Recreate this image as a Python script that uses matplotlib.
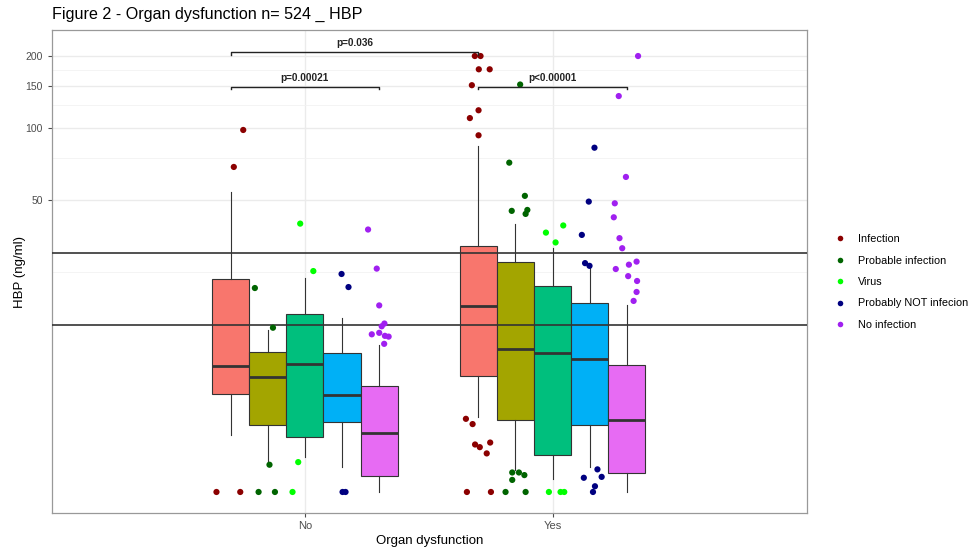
import matplotlib
matplotlib.use("Agg")
import matplotlib.pyplot as plt
from matplotlib.lines import Line2D
from matplotlib.ticker import FixedLocator, NullFormatter

plt.rcParams['font.family'] = ['Liberation Sans', 'DejaVu Sans']

# ---------------- data ----------------
categories = ["No", "Yes"]
groups = ["Infection", "Probable infection", "Virus", "Probably NOT infecion", "No infection"]

# box statistics (whisker low, q1, median, q3, whisker high) per group
whislo_no = [5.2, 3.9, 4.2, 3.8, 3.0]
q1_no = [7.7, 5.7, 5.1, 5.9, 3.5]
med_no = [10.1, 9.1, 10.3, 7.6, 5.3]
q3_no = [23.4, 11.6, 16.6, 11.4, 8.3]
whishi_no = [53.8, 14.3, 23.5, 16.0, 12.4]

whislo_yes = [6.2, 3.7, 3.4, 3.8, 3.0]
q1_yes = [9.2, 6.0, 4.3, 5.7, 3.6]
med_yes = [18.0, 11.9, 11.4, 10.8, 6.0]
q3_yes = [32.1, 27.5, 21.8, 18.5, 10.2]
whishi_yes = [84.1, 39.8, 31.4, 27.0, 18.1]

# outlying points (values) and their horizontal jitter
pts_no = [
    [98.1, 68.7, 3, 3],
    [21.4, 14.6, 3.9, 3, 3],
    [39.8, 25.2, 4.0, 3],
    [24.5, 21.6, 3, 3],
    [37.6, 25.8, 18.1, 14.8, 15.2, 13.7, 13.9, 13.5, 13.4, 12.5],
]
jit_no = [
    [0.051, 0.013, -0.057, 0.039],
    [-0.052, 0.021, 0.007, -0.037, 0.029],
    [-0.019, 0.034, -0.027, -0.050],
    [-0.002, 0.026, 0.002, 0.014],
    [-0.045, -0.010, 0.0, 0.010, 0.021, -0.030, 0.0, 0.023, 0.038, 0.020],
]
pts_yes = [
    [200, 200, 176, 176, 151, 118.6, 110, 93.2, 6.07, 5.77, 4.74, 4.62, 4.83, 4.35, 3, 3],
    [152, 71.6, 52, 45, 45.4, 43.7, 3.62, 3.62, 3.53, 3.37, 3, 3],
    [36.5, 39.1, 33.2, 3, 3, 3],
    [82.7, 49.2, 35.7, 27.2, 26.5, 3.73, 3.44, 3.47, 3.17, 3],
    [200, 136, 62.4, 48.4, 42.3, 34.6, 31.4, 25.7, 26.8, 27.6, 24.0, 22.9, 20.6, 18.9],
]
jit_yes = [
    [-0.014, 0.009, 0.002, 0.046, -0.026, 0.001, -0.034, 0.001, -0.050, -0.023, -0.013, 0.006, 0.048, 0.034, -0.046, 0.051],
    [0.019, -0.025, 0.038, -0.015, 0.048, 0.041, -0.013, 0.014, 0.036, -0.013, -0.040, 0.041],
    [-0.027, 0.043, 0.012, -0.015, 0.032, 0.047],
    [0.019, -0.004, -0.032, -0.019, -0.001, 0.031, -0.024, 0.048, 0.021, 0.013],
    [0.045, -0.033, -0.004, -0.049, -0.053, -0.030, -0.019, -0.045, 0.008, 0.039, 0.005, 0.041, 0.039, 0.027],
]

thresholds = [15, 30]
ytick_vals = [50, 100, 150, 200]
yminor_vals = [25, 75, 125, 175]

# significance brackets: (group index a, cat a, group index b, cat b, level, label)
brackets = [
    (0, 0, 0, 1, 208, "p=0.036"),
    (0, 0, 4, 0, 149, "p=0.00021"),
    (0, 1, 4, 1, 149, "p<0.00001"),
]

# ---------------- style ----------------
fill_colors = ["#F8766D", "#A3A500", "#00BF7D", "#00B0F6", "#E76BF3"]
point_colors = ["#8B0000", "#006400", "#00FF00", "#000080", "#A020F0"]
box_w = 0.15
offsets = [-0.3, -0.15, 0.0, 0.15, 0.3]

fig = plt.figure(figsize=(9.73, 5.51), dpi=100)
ax = fig.add_axes([52 / 973, 1 - 513 / 551, (807 - 52) / 973, (513 - 30) / 551])

ax.set_yscale('log')
ax.set_ylim(2.45, 257)
ax.set_xlim(-0.021, 3.027)

# grid
ax.yaxis.set_major_locator(FixedLocator(ytick_vals))
ax.yaxis.set_minor_locator(FixedLocator(yminor_vals))
ax.yaxis.set_minor_formatter(NullFormatter())
ax.set_yticklabels([str(v) for v in ytick_vals])
ax.set_xticks([1, 2])
ax.set_xticklabels(categories)
ax.grid(True, which='major', color='#EBEBEB', linewidth=1.0)
ax.grid(True, which='minor', axis='y', color='#F2F2F2', linewidth=0.6)
ax.set_axisbelow(True)

all_stats = [
    (whislo_no, q1_no, med_no, q3_no, whishi_no),
    (whislo_yes, q1_yes, med_yes, q3_yes, whishi_yes),
]
for ci, (lo, q1, md, q3, hi) in enumerate(all_stats):
    for gi in range(5):
        st = [dict(whislo=lo[gi], q1=q1[gi], med=md[gi], q3=q3[gi], whishi=hi[gi], fliers=[])]
        bp = ax.bxp(st, positions=[ci + 1 + offsets[gi]], widths=box_w, patch_artist=True,
                    showcaps=False, showfliers=False, manage_ticks=False,
                    boxprops=dict(facecolor=fill_colors[gi], edgecolor='#333333', linewidth=0.8),
                    medianprops=dict(color='#333333', linewidth=2.0),
                    whiskerprops=dict(color='#333333', linewidth=0.8))
        for b in bp['boxes']:
            b.set_zorder(2)

for t in thresholds:
    ax.axhline(t, color='#333333', linewidth=1.2, zorder=3)

for ci, (pts, jit) in enumerate([(pts_no, jit_no), (pts_yes, jit_yes)]):
    for gi in range(5):
        xs = [ci + 1 + offsets[gi] + j for j in jit[gi]]
        ax.scatter(xs, pts[gi], s=20, color=point_colors[gi], edgecolors='none', zorder=4)

# brackets
for ga, ca, gb, cb, lvl, lab in brackets:
    xa = ca + 1 + offsets[ga]
    xb = cb + 1 + offsets[gb]
    tip = lvl / 1.025
    ax.plot([xa, xa, xb, xb], [tip, lvl, lvl, tip], color='#222222', linewidth=1.0, zorder=5)
    ax.text((xa + xb) / 2, lvl * 1.04, lab, ha='center', va='bottom', fontsize=7.2,
            fontweight='bold', color='#222222')

for sp in ax.spines.values():
    sp.set_color('#999999')
    sp.set_linewidth(0.9)

ax.tick_params(axis='both', which='major', colors='#4D4D4D', labelsize=7.5, length=3, width=0.8)
ax.tick_params(axis='y', which='minor', length=0)
ax.tick_params(axis='x', labelsize=8, pad=2.5)

ax.set_xlabel("Organ dysfunction", fontsize=9.5, color='black', labelpad=3)
ax.set_ylabel("HBP (ng/ml)", fontsize=9.5, color='black', labelpad=0)

fig.text(52 / 973, 1 - 14 / 551, "Figure 2 - Organ dysfunction n= 524 _ HBP", fontsize=11.6,
         ha='left', va='center', color='black')

handles = [Line2D([0], [0], marker='o', linestyle='none', markersize=4,
                  markerfacecolor=c, markeredgecolor='none') for c in point_colors]
fig.legend(handles, groups, loc='center left', bbox_to_anchor=(822 / 973, 1 - 282 / 551),
           frameon=False, fontsize=7.8, handletextpad=0.9, labelspacing=1.05, handlelength=1.5)

fig.savefig("out.png", dpi=100)
